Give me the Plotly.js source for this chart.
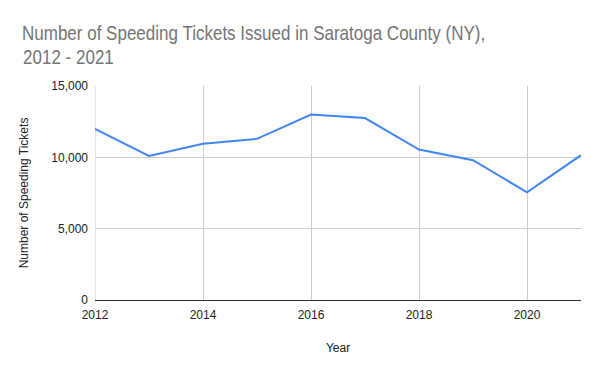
<!DOCTYPE html>
<html>
<head>
<meta charset="utf-8">
<script src="https://cdn.plot.ly/plotly-3.0.1.min.js"></script>
<style>html,body{margin:0;padding:0;background:#fff;}#chart{width:600px;height:371px;}</style>
</head>
<body>
<div id="chart"></div>
<script>
const years = [2012, 2013, 2014, 2015, 2016, 2017, 2018, 2019, 2020, 2021];
const tickets = [12000, 10100, 10950, 11300, 13000, 12750, 10550, 9800, 7550, 10150];
const yTickVals = [0, 5000, 10000, 15000];
const yTickText = ["0", "5,000", "10,000", "15,000"];
const xTickVals = [2012, 2014, 2016, 2018, 2020];
const titleLines = ["Number of Speeding Tickets Issued in Saratoga County (NY),", "2012 - 2021"];

const font = "Arial, 'Liberation Sans', sans-serif";
const titleFont = "Arial, 'Liberation Sans', sans-serif";
const titleSqueeze = 0.83;

Plotly.newPlot('chart', [{
  x: years,
  y: tickets,
  type: 'scatter',
  mode: 'lines',
  line: {color: '#4285F4', width: 2},
  hoverinfo: 'x+y'
}], {
  width: 600,
  height: 371,
  margin: {l: 95, r: 19, t: 86, b: 71},
  paper_bgcolor: '#fff',
  plot_bgcolor: '#fff',
  showlegend: false,
  title: {
    text: titleLines[0],
    font: {family: titleFont, size: 20.5, color: '#757575'},
    x: 22/600, xref: 'container', xanchor: 'left',
    y: 1 - 40/371, yref: 'container', yanchor: 'bottom', pad: {b: 0}
  },
  annotations: [{
    text: titleLines[1],
    font: {family: titleFont, size: 20.5, color: '#757575'},
    xref: 'paper', yref: 'paper',
    x: (22 - 95) / 486, y: 1 + (86 - 69) / 214,
    xanchor: 'left', yanchor: 'bottom', showarrow: false, borderpad: 0
  }],
  xaxis: {
    range: [2012, 2021],
    tickvals: xTickVals,
    ticktext: xTickVals.map(String),
    showgrid: true,
    gridcolor: '#cccccc',
    gridwidth: 1,
    zeroline: false,
    showline: false,
    ticks: '',
    ticklabelstandoff: 6,
    tickfont: {family: font, size: 12, color: '#222'},
    title: {text: 'Year', font: {family: font, size: 12, color: '#222'}, standoff: 22},
    automargin: false
  },
  yaxis: {
    range: [0, 15000],
    tickvals: yTickVals,
    ticktext: yTickText,
    showgrid: true,
    gridcolor: '#cccccc',
    gridwidth: 1,
    zeroline: true,
    zerolinecolor: '#333333',
    zerolinewidth: 1,
    showline: false,
    ticks: '',
    ticklabelstandoff: 6,
    tickfont: {family: font, size: 12, color: '#222'},
    title: {text: 'Number of Speeding Tickets', font: {family: font, size: 12, color: '#222'}, standoff: 20},
    automargin: false
  },
  shapes: [{
    type: 'line', xref: 'x', yref: 'paper', x0: 2012, x1: 2012, y0: 0, y1: 1,
    line: {color: '#cccccc', width: 1}, layer: 'below'
  }]
}, {displayModeBar: false, staticPlot: true}).then(function (gd) {
  const els = gd.querySelectorAll('text.gtitle, text.annotation-text');
  els.forEach(function (el) {
    const bb = el.getBBox();
    const left = bb.x;
    const prev = el.getAttribute('transform') || '';
    el.setAttribute('transform', prev + ' translate(' + left + ',0) scale(' + titleSqueeze + ',1) translate(' + (-left) + ',0)');
  });
});
</script>
</body>
</html>
